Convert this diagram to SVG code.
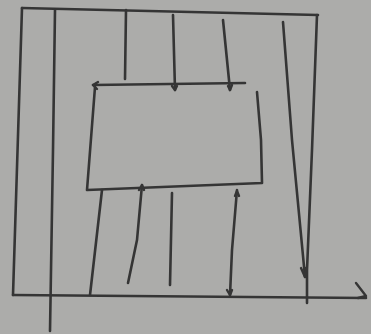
<svg xmlns="http://www.w3.org/2000/svg" width="371" height="334" viewBox="0 0 371 334">
<defs>
<style>
.s{fill:none;stroke:#353535;stroke-width:2.6;stroke-linecap:round;stroke-linejoin:round}
.h{fill:none;stroke:#353535;stroke-width:2.4;stroke-linecap:round;stroke-linejoin:round}
</style>
</defs>
<rect width="371" height="334" fill="#acacaa"/>
<g id="outer">
<path class="s" d="M22,8 L318,15"/>
<path class="s" d="M22,8 L13,295"/>
<path class="s" d="M317,15 L312,150 L307,270 L307,303"/>
<path class="s" d="M13,295 L366,298"/>
<path class="h" d="M356,283 L366,296 L358,298"/>
</g>
<g id="leftline">
<path class="s" d="M55,10 L53,150 L50,331"/>
</g>
<g id="inner">
<path class="s" d="M93,85 L245,83"/>
<path class="h" d="M98,82 L93,85 L97,89"/>
<path class="s" d="M95,87 L87,190 L262,183 L261,140 L257,92"/>
</g>
<g id="connectors">
<path class="s" d="M126,10 L125,79"/>
<path class="s" d="M173,15 L175,90"/>
<path class="h" d="M172,86 L175,90 L177,86"/>
<path class="s" d="M223,20 L230,90"/>
<path class="h" d="M228,86 L230,90 L232,85"/>
<path class="s" d="M283,22 L292,140 L305,277"/>
<path class="h" d="M301,268 L305,277 L306,268"/>
<path class="s" d="M102,190 L90,295"/>
<path class="s" d="M142,185 L137,240 L128,283"/>
<path class="h" d="M139,190 L142,185 L144,190"/>
<path class="s" d="M172,193 L170,285"/>
<path class="s" d="M237,190 L232,250 L230,295"/>
<path class="h" d="M235,196 L237,191 L239,196"/>
<path class="h" d="M227,290 L230,295 L232,290"/>
</g>
</svg>
